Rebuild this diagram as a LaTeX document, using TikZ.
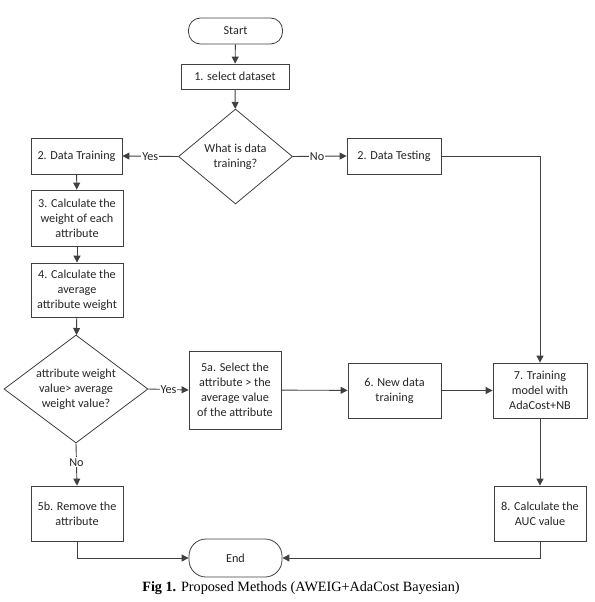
\documentclass[tikz,border=0pt]{standalone}
\usepackage{fontspec}
\setmainfont{Carlito}
\newfontfamily\capfont{Liberation Serif}
\usetikzlibrary{shapes.geometric,arrows.meta,calc}
\definecolor{lc}{HTML}{404040}
\definecolor{tc}{HTML}{262626}
\tikzset{
  box/.style={draw=lc, line width=0.8pt, fill=white, align=center, inner sep=1pt, text=tc,
    font=\fontsize{12.2}{15}\selectfont},
  term/.style={box, rounded corners=12pt},
  dia/.style={box, diamond, inner sep=0pt},
  conn/.style={draw=lc, line width=0.9pt, -{Triangle[length=7pt,width=7pt]}},
  lbl/.style={fill=white, inner sep=1pt, text=tc, font=\fontsize{12.2}{14}\selectfont}
}
\begin{document}
\begin{tikzpicture}[x=1pt,y=-1pt]
\useasboundingbox (0,0) rectangle (594,602);
\node[term, minimum width=94pt, minimum height=26pt] (start) at (235.5,31) {Start};
\node[box, minimum width=108pt, minimum height=25pt] (s1) at (235,76.5) {1. select dataset};
\node[dia, minimum width=114pt, minimum height=95pt, aspect=1.2] (d1) at (235.5,156.5) {What is data\\training?};
\node[box, minimum width=91pt, minimum height=36pt] (dt) at (76.5,156) {2. Data Training};
\node[box, minimum width=94pt, minimum height=36pt] (dtest) at (394,156) {2. Data Testing};
\node[box, minimum width=92pt, minimum height=56pt] (b3) at (77,218) {3. Calculate the\\weight of each\\attribute};
\node[box, minimum width=92pt, minimum height=54pt] (b4) at (77,290) {4. Calculate the\\average\\attribute weight};
\node[dia, minimum width=144pt, minimum height=108pt, aspect=1.33] (d2) at (76,389) {attribute weight\\value> average\\weight value?};
\node[box, minimum width=92pt, minimum height=78pt] (b5a) at (235,390) {5a. Select the\\attribute > the\\average value\\of the attribute};
\node[box, minimum width=93pt, minimum height=55pt] (b6) at (394.5,390.5) {6. New data\\training};
\node[box, minimum width=94pt, minimum height=55pt] (b7) at (540,390.5) {7. Training\\model with\\AdaCost+NB};
\node[box, minimum width=92pt, minimum height=55pt] (b5b) at (77,513.5) {5b. Remove the\\attribute};
\node[box, minimum width=92pt, minimum height=55pt] (b8) at (540,513.5) {8. Calculate the\\AUC value};
\node[term, minimum width=93pt, minimum height=38pt, rounded corners=17pt] (end) at (235.5,558) {End};
\node[inner sep=0pt, font=\capfont\fontsize{14.2}{16}\selectfont] (cap) at (301,588) {\textbf{Fig 1.} Proposed Methods (AWEIG+AdaCost Bayesian)};

\draw[conn] (start) -- (s1);
\draw[conn] (s1) -- (d1);
\draw[conn] (d1.west) -- node[lbl, pos=0.5] {Yes} (dt.east);
\draw[conn] (d1.east) -- node[lbl, pos=0.45] {No} (dtest.west);
\draw[conn] (dt) -- (b3);
\draw[conn] (b3) -- (b4);
\draw[conn] (b4) -- (d2);
\draw[conn] (d2.east) -- node[lbl, pos=0.5] {Yes} (b5a.west);
\draw[conn] (d2.south) -- node[lbl, pos=0.45] {No} (b5b.north);
\draw[conn] (b5a) -- (b6);
\draw[conn] (b6) -- (b7);
\draw[conn] (dtest.east) -| (b7.north);
\draw[conn] (b7) -- (b8);
\draw[conn] (b5b.south) |- (end.west);
\draw[conn] (b8.south) |- (end.east);
\end{tikzpicture}
\end{document}
